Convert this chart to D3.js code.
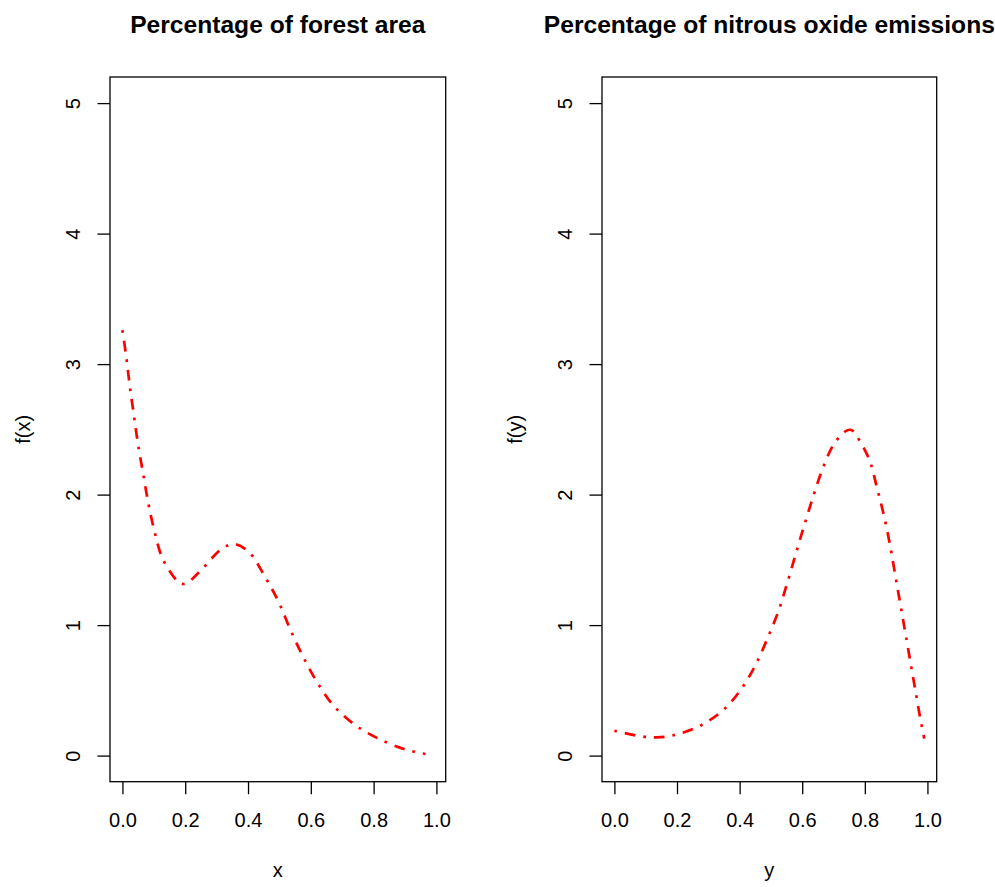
<!DOCTYPE html>
<html lang="en">
	<head>
		<meta charset="utf-8">
		<title>Density plots</title>
		<script type="text/javascript" src="https://cdn.jsdelivr.net/npm/d3@7/dist/d3.min.js"></script>
		<style>
			body { margin: 0; background: #fff; }
			text {
				font-family: "Liberation Sans", Arial, sans-serif;
				fill: #000;
			}
			.title { font-size: 24.6px; font-weight: bold; }
			.axis text { font-size: 20px; }
			.lab { font-size: 20px; }
			.axis path, .axis line { stroke: #000; stroke-width: 1.3; }
		</style>
	</head>
	<body>
		<script type="text/javascript">
			// Panel titles and axis labels
			var titles = ["Percentage of forest area", "Percentage of nitrous oxide emissions"];
			var xLabels = ["x", "y"];
			var yLabels = ["f(x)", "f(y)"];

			// Tick values
			var xTicks = [0, 0.2, 0.4, 0.6, 0.8, 1.0];
			var yTicks = [0, 1, 2, 3, 4, 5];

			// Density estimate, forest area
			var forestX = [0, 0.013, 0.024, 0.037, 0.050, 0.066, 0.082, 0.101, 0.128, 0.178, 0.193, 0.210,
			               0.254, 0.319, 0.358, 0.403, 0.454, 0.497, 0.534, 0.573, 0.617, 0.670, 0.738,
			               0.817, 0.903, 0.965];
			var forestY = [3.26, 3.04, 2.82, 2.60, 2.38, 2.16, 1.94, 1.73, 1.51, 1.33, 1.315, 1.33,
			               1.43, 1.59, 1.62, 1.56, 1.37, 1.18, 0.97, 0.77, 0.575, 0.39, 0.24,
			               0.128, 0.046, 0.012];

			// Density estimate, nitrous oxide emissions
			var nitrousX = [0, 0.090, 0.135, 0.183, 0.271, 0.348, 0.408, 0.454, 0.491, 0.526, 0.553,
			                0.580, 0.606, 0.633, 0.664, 0.702, 0.742, 0.757, 0.771, 0.814, 0.839, 0.861,
			                0.880, 0.896, 0.912, 0.928, 0.944, 0.960, 0.976, 0.990];
			var nitrousY = [0.19, 0.146, 0.14, 0.153, 0.225, 0.35, 0.52, 0.71, 0.91, 1.12, 1.33,
			                1.55, 1.76, 1.97, 2.19, 2.39, 2.49, 2.495, 2.46, 2.27, 2.05, 1.84,
			                1.62, 1.40, 1.18, 0.96, 0.74, 0.52, 0.30, 0.13];

			var w = 995;
			var h = 887;
			var xlim = [0, 0.99];
			var ylim = [0, 5];

			function extend(lim) {
				var d = (lim[1] - lim[0]) * 0.04;
				return [lim[0] - d, lim[1] + d];
			}

			var svg = d3.select("body")
						.append("svg")
						.attr("width", w)
						.attr("height", h);

			var panels = [
				{ left: 110, right: 445.7, xs: forestX, ys: forestY },
				{ left: 602, right: 936.7, xs: nitrousX, ys: nitrousY }
			];
			var plotTop = 77, plotBottom = 781.7;

			panels.forEach(function(p, i) {
				var xScale = d3.scaleLinear()
							   .domain(extend(xlim))
							   .range([p.left, p.right]);
				var yScale = d3.scaleLinear()
							   .domain(extend(ylim))
							   .range([plotBottom, plotTop]);

				var g = svg.append("g");

				// Title
				g.append("text")
				 .attr("class", "title")
				 .attr("x", (p.left + p.right) / 2)
				 .attr("y", 33)
				 .attr("text-anchor", "middle")
				 .text(titles[i]);

				// x axis
				var xAxis = d3.axisBottom(xScale)
							  .tickValues(xTicks)
							  .tickFormat(d3.format(".1f"))
							  .tickSize(12.5)
							  .tickSizeOuter(0)
							  .tickPadding(0);
				var gx = g.append("g")
						  .attr("class", "axis")
						  .attr("transform", "translate(0," + plotBottom + ")")
						  .call(xAxis);
				gx.select(".domain").remove();
				gx.selectAll("text")
				  .attr("dy", null)
				  .attr("y", 45.5);

				// y axis
				var yAxis = d3.axisLeft(yScale)
							  .tickValues(yTicks)
							  .tickFormat(d3.format("d"))
							  .tickSize(12.5)
							  .tickSizeOuter(0);
				var gy = g.append("g")
						  .attr("class", "axis")
						  .attr("transform", "translate(" + p.left + ",0)")
						  .call(yAxis);
				gy.select(".domain").remove();
				gy.selectAll("text")
				  .attr("x", null)
				  .attr("dy", null)
				  .attr("text-anchor", "middle")
				  .attr("transform", "translate(-30,0) rotate(-90)");

				// Box
				g.append("rect")
				 .attr("x", p.left)
				 .attr("y", plotTop)
				 .attr("width", p.right - p.left)
				 .attr("height", plotBottom - plotTop)
				 .attr("fill", "none")
				 .attr("stroke", "#000")
				 .attr("stroke-width", 1.3);

				// Axis labels
				g.append("text")
				 .attr("class", "lab")
				 .attr("x", (p.left + p.right) / 2)
				 .attr("y", 877)
				 .attr("text-anchor", "middle")
				 .text(xLabels[i]);
				g.append("text")
				 .attr("class", "lab")
				 .attr("text-anchor", "middle")
				 .attr("transform", "translate(" + (p.left - 80) + "," + ((plotTop + plotBottom) / 2) + ") rotate(-90)")
				 .text(yLabels[i]);

				// Density curve
				var pts = p.xs.map(function(x, j) { return [x, p.ys[j]]; });
				var line = d3.line()
							 .x(function(d) { return xScale(d[0]); })
							 .y(function(d) { return yScale(d[1]); })
							 .curve(d3.curveCatmullRom);
				g.append("path")
				 .datum(pts)
				 .attr("d", line)
				 .attr("fill", "none")
				 .attr("stroke", "red")
				 .attr("stroke-width", 2.7)
				 .attr("stroke-dasharray", "2.7,8,10.7,8");
			});
		</script>
	</body>
</html>
